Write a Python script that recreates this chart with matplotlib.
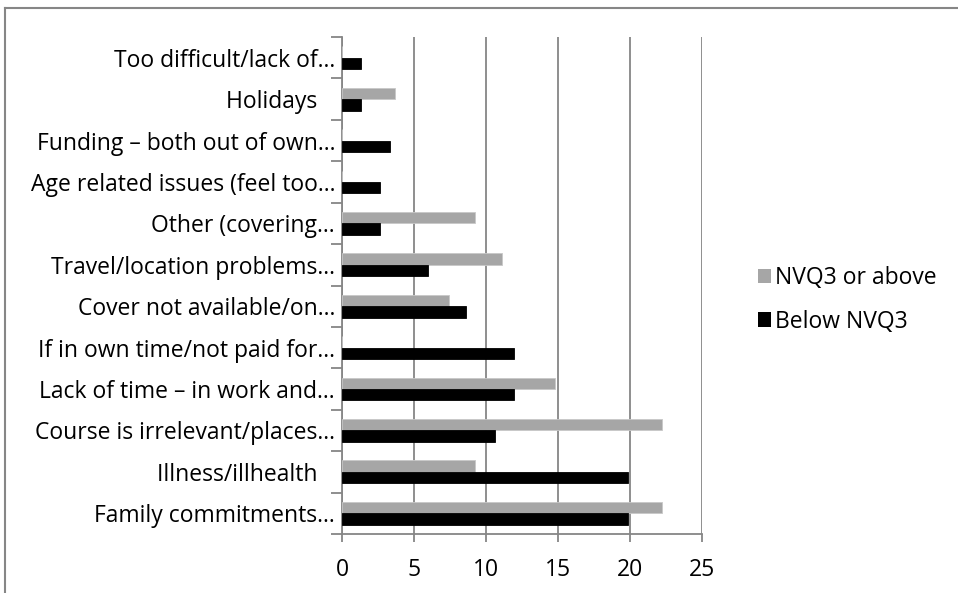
import matplotlib
matplotlib.use("Agg")
import matplotlib.pyplot as plt
import numpy as np
from matplotlib.lines import Line2D
from matplotlib.patches import Patch

plt.rcParams['font.family'] = ['Open Sans', 'DejaVu Sans']

# reasons, listed bottom to top
reasons = [
    'Family commitments…',
    'Illness/illhealth   ',
    'Course is irrelevant/places…',
    'Lack of time – in work and…',
    'If in own time/not paid for…',
    'Cover not available/on…',
    'Travel/location problems…',
    'Other (covering…',
    'Age related issues (feel too…',
    'Funding – both out of own…',
    'Holidays   ',
    'Too difficult/lack of…',
]

# percentages
nvq3_above = [22.2, 9.26, 22.2, 14.8, 0, 7.41, 11.1, 9.26, 0, 0, 3.7, 0]
below_nvq3 = [19.87, 19.87, 10.6, 11.92, 11.92, 8.61, 5.96, 2.65, 2.65, 3.31, 1.32, 1.32]

grey = '#a6a6a6'
axis_grey = '#868686'
fs = 16.5

fig = plt.figure(figsize=(9.58, 5.93), dpi=100)
ax = fig.add_axes([342 / 958, 1 - 534 / 593, 360 / 958, 497 / 593])

y = np.arange(len(reasons))
h = 0.275
ax.barh(y + h / 2, nvq3_above, height=h, color=grey, edgecolor='#c8c8c8', linewidth=0.6, zorder=3)
ax.barh(y - h / 2, below_nvq3, height=h, color='black', edgecolor='black', linewidth=0.6, zorder=3)

ax.set_xlim(0, 25)
ax.set_ylim(-0.5, len(reasons) - 0.5)
ax.set_xticks(range(0, 26, 5))
ax.xaxis.grid(True, color=axis_grey, linewidth=1.3, zorder=0)

# category labels without ticks, separator ticks between categories
ax.set_yticks(y)
ax.set_yticklabels(reasons, fontsize=fs)
ax.tick_params(axis='y', length=0, pad=5)
ax.set_yticks(np.arange(-0.5, len(reasons)), minor=True)
ax.tick_params(axis='y', which='minor', length=8, width=1.3, color=axis_grey)
ax.tick_params(axis='x', length=6, width=1.3, color=axis_grey, labelsize=fs, pad=11)

for s in ['top', 'right']:
    ax.spines[s].set_visible(False)
for s in ['left', 'bottom']:
    ax.spines[s].set_color(axis_grey)
    ax.spines[s].set_linewidth(1.3)

handles = [Patch(facecolor=grey, edgecolor='none'), Patch(facecolor='black', edgecolor='none')]
fig.legend(handles, ['NVQ3 or above', 'Below NVQ3'], loc='center left',
           bbox_to_anchor=(737 / 958, 1 - 300 / 593), frameon=False, fontsize=fs,
           handlelength=0.6, handleheight=0.6, handletextpad=0.15, labelspacing=0.85)

# chart frame on left and top edges
fig.add_artist(Line2D([5 / 958, 5 / 958], [0, 1 - 8 / 593], transform=fig.transFigure,
                      color=axis_grey, linewidth=1.5))
fig.add_artist(Line2D([5 / 958, 1], [1 - 8 / 593, 1 - 8 / 593], transform=fig.transFigure,
                      color=axis_grey, linewidth=1.5))

fig.savefig('out.png', dpi=100)
